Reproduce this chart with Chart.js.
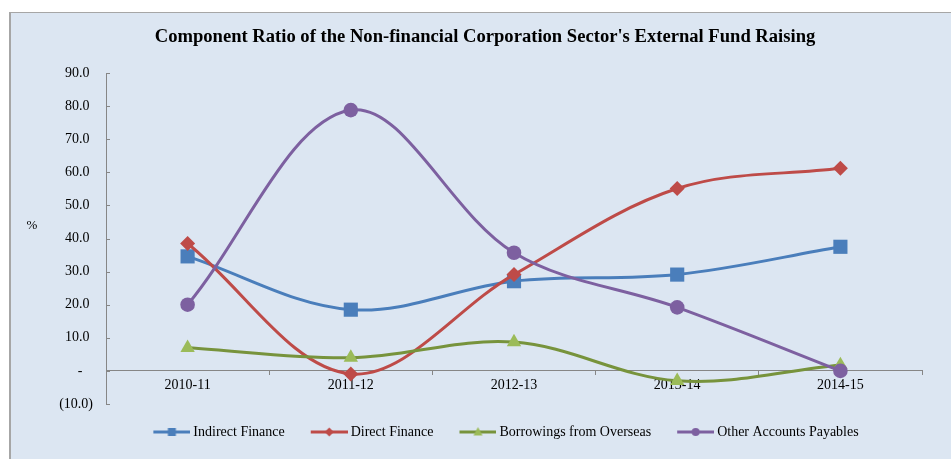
<!DOCTYPE html>
<html>
<head>
<meta charset="utf-8">
<script src="https://cdn.jsdelivr.net/npm/chart.js@4.4.1/dist/chart.umd.min.js"></script>
<style>
  body { margin: 0; background: #ffffff; }
  #frame {
    position: absolute; left: 9px; top: 12px; width: 942px; height: 447px;
    background: #dce6f2; border-top: 1px solid #a6a6a6; border-left: 2px solid #a6a6a6;
  }
  canvas { display: block; }
</style>
</head>
<body>
<div id="frame"><canvas id="fundChart" width="940" height="446" style="width:940px;height:446px"></canvas></div>
<script>
var categories = ['2010-11', '2011-12', '2012-13', '2013-14', '2014-15'];
var indirectFinance = [34.6, 18.5, 27.1, 29.1, 37.5];
var directFinance = [38.5, -0.9, 29.1, 55.1, 61.2];
var borrowingsOverseas = [7.0, 4.0, 8.7, -3.0, 1.8];
var otherPayables = [20.0, 78.8, 35.7, 19.2, 0.0];
var yTicks = [-10, 0, 10, 20, 30, 40, 50, 60, 70, 80, 90];

var color = {
    blue: '#4a7ebb',
    red: '#be4b48',
    greenLine: '#77933c',
    green: '#9bbb59',
    purple: '#7d60a0',
    axis: '#868686'
};
var serif = '"Liberation Serif", "Times New Roman", serif';

// legend icon: line with a small marker in the middle
function legendIcon(lineColor, markColor, shape) {
    var c = document.createElement('canvas');
    c.width = 46; c.height = 14;
    var g = c.getContext('2d');
    g.strokeStyle = lineColor; g.lineWidth = 3;
    g.beginPath(); g.moveTo(9, 7); g.lineTo(46, 7); g.stroke();
    g.fillStyle = markColor;
    var cx = 27.5, cy = 7;
    g.beginPath();
    if (shape === 'rect') {
        g.rect(cx - 4, cy - 4, 8, 8);
    } else if (shape === 'diamond') {
        g.moveTo(cx, cy - 4.5); g.lineTo(cx + 4.5, cy); g.lineTo(cx, cy + 4.5); g.lineTo(cx - 4.5, cy);
    } else if (shape === 'triangle') {
        g.moveTo(cx, cy - 5); g.lineTo(cx + 4.5, cy + 3.5); g.lineTo(cx - 4.5, cy + 3.5);
    } else {
        g.arc(cx, cy, 4, 0, Math.PI * 2);
    }
    g.closePath(); g.fill();
    return c;
}
var icons = [
    legendIcon(color.blue, color.blue, 'rect'),
    legendIcon(color.red, color.red, 'diamond'),
    legendIcon(color.greenLine, color.green, 'triangle'),
    legendIcon(color.purple, color.purple, 'circle')
];

var extras = {
    id: 'extras',
    afterDraw: function (chart) {
        var ctx = chart.ctx, y = chart.scales.y, area = chart.chartArea;
        ctx.save();
        ctx.strokeStyle = color.axis; ctx.lineWidth = 1;
        y.ticks.forEach(function (t, i) {
            var py = Math.round(y.getPixelForTick(i)) + 0.5;
            ctx.beginPath(); ctx.moveTo(area.left, py); ctx.lineTo(area.left + 4, py); ctx.stroke();
        });
        ctx.fillStyle = '#000';
        ctx.font = '13px ' + serif;
        ctx.textAlign = 'center'; ctx.textBaseline = 'middle';
        ctx.fillText('%', 21, 213);
        ctx.restore();
    }
};

function series(label, data, line, mark, style, radius, order) {
    return {
        label: label, data: data, order: order,
        borderColor: line, backgroundColor: mark, borderWidth: 3,
        pointStyle: style, pointRadius: radius, pointHoverRadius: radius,
        pointBackgroundColor: mark, pointBorderColor: mark, pointBorderWidth: 0,
        tension: 0.35, fill: false
    };
}

var ctx = document.getElementById('fundChart');
new Chart(ctx, {
    type: 'line',
    data: {
        labels: categories,
        datasets: [
            series('Indirect Finance', indirectFinance, color.blue, color.blue, 'rect', 10, 4),
            series('Direct Finance', directFinance, color.red, color.red, 'rectRot', 7.5, 3),
            series('Borrowings from Overseas', borrowingsOverseas, color.greenLine, color.green, 'triangle', 8.3, 2),
            series('Other Accounts Payables', otherPayables, color.purple, color.purple, 'circle', 7.3, 1)
        ]
    },
    options: {
        responsive: false,
        animation: false,
        layout: { padding: { left: 37, right: 29, top: 0, bottom: 10 } },
        plugins: {
            title: {
                display: true,
                text: "Component Ratio of the Non-financial Corporation Sector's External Fund Raising",
                color: '#000',
                font: { family: serif, size: 18.6, weight: 'bold' },
                padding: { top: 13, bottom: 24.7 }
            },
            legend: {
                position: 'bottom',
                fullSize: false,
                labels: {
                    usePointStyle: true,
                    pointStyleWidth: 38,
                    padding: 21,
                    color: '#000',
                    font: { family: serif, size: 14 },
                    sort: function (a, b) { return a.datasetIndex - b.datasetIndex; },
                    generateLabels: function (chart) {
                        var items = Chart.defaults.plugins.legend.labels.generateLabels(chart);
                        items.forEach(function (it) {
                            it.pointStyle = icons[it.datasetIndex];
                            if (it.datasetIndex === 3) it.text = it.text + '      ';
                        });
                        return items;
                    }
                }
            },
            tooltip: { enabled: false }
        },
        scales: {
            x: {
                position: { y: 0 },
                offset: true,
                grid: { offset: true, drawOnChartArea: false, drawTicks: true, tickLength: 4, color: color.axis },
                border: { display: true, color: color.axis, width: 1 },
                ticks: { color: '#000', font: { family: serif, size: 14 }, padding: 2, maxRotation: 0 },
                afterFit: function (scale) { scale.height = 0; }
            },
            y: {
                min: -10, max: 90,
                afterBuildTicks: function (scale) {
                    scale.ticks = yTicks.map(function (v) { return { value: v }; });
                },
                grid: { drawOnChartArea: false, drawTicks: false },
                border: { display: true, color: color.axis, width: 1 },
                ticks: {
                    color: '#000', font: { family: serif, size: 14 }, padding: 13,
                    callback: function (v) {
                        if (v === 0) return '-   ';
                        if (v < 0) return '(' + Math.abs(v).toFixed(1) + ')';
                        return v.toFixed(1) + ' ';
                    }
                },
                afterFit: function (scale) { scale.width = 58; }
            }
        }
    },
    plugins: [extras]
});
</script>
</body>
</html>
